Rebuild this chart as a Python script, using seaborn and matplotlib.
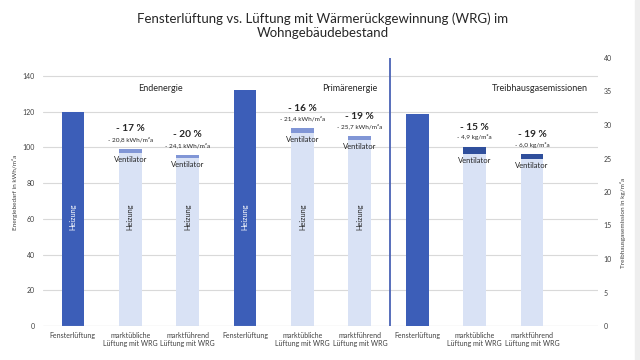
import numpy as np
import pandas as pd
import matplotlib
matplotlib.use("Agg")
import matplotlib.pyplot as plt
from matplotlib.patches import Rectangle
import seaborn as sns

# values
kategorien = ["Fensterlüftung", "marktübliche\nLüftung mit WRG", "marktführend\nLüftung mit WRG"]
gruppen = ["Endenergie", "Primärenergie", "Treibhausgasemissionen"]

end_heizung = [120.0, 97.0, 94.0]
end_ventilator = [0.0, 2.2, 1.9]
prim_heizung = [132.0, 108.0, 104.3]
prim_ventilator = [0.0, 2.6, 2.0]
thg_heizung = [31.6, 25.6, 24.9]
thg_ventilator = [0.0, 1.1, 0.7]

prozent = ["", "- 17 %", "- 20 %", "", "- 16 %", "- 19 %", "", "- 15 %", "- 19 %"]
einsparung = ["", "- 20,8 kWh/m²a", "- 24,1 kWh/m²a",
              "", "- 21,4 kWh/m²a", "- 25,7 kWh/m²a",
              "", "- 4,9 kg/m²a", "- 6,0 kg/m²a"]

c_fenster = "#3C5EB8"
c_heizung = "#D9E2F5"
c_vent = "#8196D6"
c_vent_thg = "#2F4F9C"

sns.set_theme(style="white")
plt.rcParams["font.family"] = ["Lato", "DejaVu Sans"]

art = ["fenster", "wrg", "wrg"]
energie = pd.DataFrame({
    "pos": range(6),
    "heizung": end_heizung + prim_heizung,
    "ventilator": end_ventilator + prim_ventilator,
    "art": art * 2,
})
energie["gesamt"] = energie["heizung"] + energie["ventilator"]
thg = pd.DataFrame({
    "pos": range(6, 9),
    "heizung": thg_heizung,
    "ventilator": thg_ventilator,
    "art": art,
})
thg["gesamt"] = thg["heizung"] + thg["ventilator"]

fig = plt.figure(figsize=(6.4, 3.6), dpi=100)
ax = fig.add_axes([43 / 640, 1 - 326 / 360, 555 / 640, 268 / 360])
ax2 = ax.twinx()

kw = dict(x="pos", hue="art", native_scale=True, dodge=False, width=0.395,
          saturation=1, errorbar=None, legend=False, linewidth=0)
sns.barplot(data=energie, y="gesamt", palette={"fenster": c_fenster, "wrg": c_vent}, ax=ax, **kw)
sns.barplot(data=energie, y="heizung", palette={"fenster": c_fenster, "wrg": c_heizung}, ax=ax, **kw)
sns.barplot(data=thg, y="gesamt", palette={"fenster": c_fenster, "wrg": c_vent_thg}, ax=ax2, **kw)
sns.barplot(data=thg, y="heizung", palette={"fenster": c_fenster, "wrg": c_heizung}, ax=ax2, **kw)

ax.set_ylim(0, 150)
ax2.set_ylim(0, 40)
ax.set_xlim(-0.52, 9.15)
ax.set_yticks(range(0, 141, 20))
ax2.set_yticks(range(0, 41, 5))
ax.set_xticks(range(9))
ax.set_xticklabels(kategorien * 3, fontsize=5, color="#404040", linespacing=1.3)
ax.grid(axis="y", color="#D9D9D9", linewidth=0.8)
ax.set_axisbelow(True)
for a in (ax, ax2):
    a.set_xlabel("")
    a.set_ylabel("")
    for s in a.spines.values():
        s.set_visible(False)
    a.tick_params(length=0, labelsize=5, colors="#404040")
ax.tick_params(axis="y", pad=6)
ax2.tick_params(axis="y", pad=4)
ax.tick_params(axis="x", pad=4)
ax.axhline(0, color="#D0D0D0", linewidth=0.8)

# divider between energy and emissions
ax.axvline(5.53, color="#4A63B5", linewidth=1.3)

# group titles
for xg, g in zip([1.52, 4.83, 8.14], gruppen):
    ax.text(xg, 133, g, ha="center", va="center", fontsize=6.5, color="#262626")

# labels on the bars
for df, a, k in [(energie, ax, 1.0), (thg, ax2, 150 / 40 * 1.0)]:
    for _, r in df.iterrows():
        i = int(r["pos"])
        col = "white" if r["art"] == "fenster" else "#262626"
        ax.text(i, 61, "Heizung", rotation=90, ha="center", va="center", fontsize=5.3, color=col)
        if r["art"] == "wrg":
            a.text(i, r["gesamt"] + 11.1 / k, prozent[i], ha="center", va="center",
                   fontsize=7.3, fontweight="bold", color="#262626")
            a.text(i, r["gesamt"] + 5.5 / k, einsparung[i], ha="center", va="center",
                   fontsize=4.6, color="#262626")
            a.text(i, r["heizung"] - 3.6 / k, "Ventilator", ha="center", va="center",
                   fontsize=5.5, color="#262626")

fig.suptitle("Fensterlüftung vs. Lüftung mit Wärmerückgewinnung (WRG) im\nWohngebäudebestand",
             x=323 / 640, y=1 - 12 / 360, fontsize=9.5, color="#262626", va="top", linespacing=1.25)
fig.text(15 / 640, 1 - 192 / 360, "Energiebedarf in kWh/m²a", rotation=90, ha="center", va="center",
         fontsize=4.6, color="#404040")
fig.text(623 / 640, 1 - 223 / 360, "Treibhausgasemission in kg/m²a", rotation=90, ha="center",
         va="center", fontsize=4.6, color="#404040")
fig.patches.append(Rectangle((635 / 640, 0), 5 / 640, 1, transform=fig.transFigure,
                             color="#EEEEEE", zorder=0))

fig.savefig("out.png", dpi=100)
